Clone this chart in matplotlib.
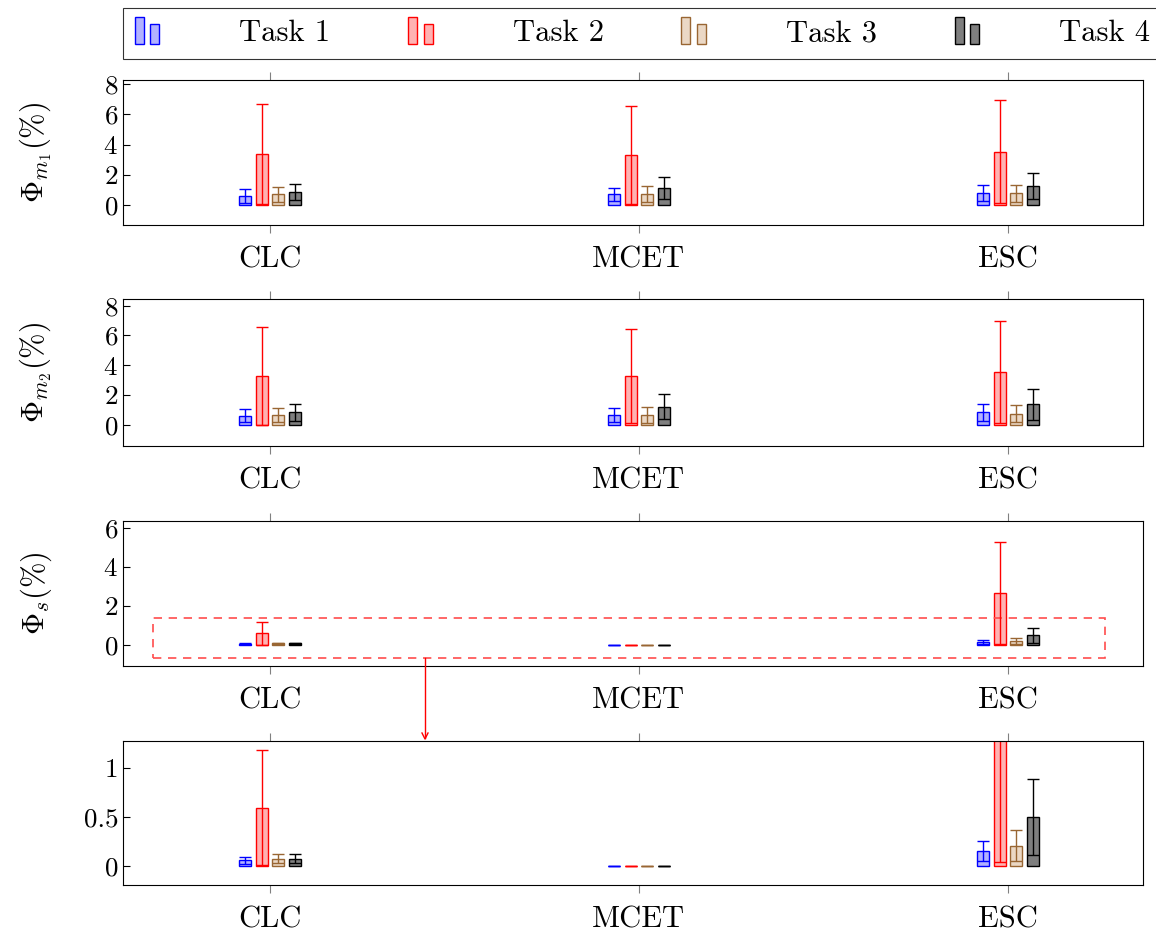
import numpy as np
import matplotlib.pyplot as plt
from matplotlib.patches import Rectangle, Patch
from matplotlib.legend_handler import HandlerBase

plt.rcParams['font.family'] = ['cmr10', 'DejaVu Serif']
plt.rcParams['mathtext.fontset'] = 'cm'
plt.rcParams['axes.formatter.use_mathtext'] = True

methods = ['CLC', 'MCET', 'ESC']
tasks = ['Task 1', 'Task 2', 'Task 3', 'Task 4']

# mean / error per task, order: CLC, MCET, ESC
m1_mean = [[0.60, 0.70, 0.77], [3.38, 3.33, 3.53], [0.70, 0.70, 0.77], [0.84, 1.10, 1.26]]
m1_err = [[0.45, 0.45, 0.53], [3.29, 3.25, 3.40], [0.48, 0.53, 0.57], [0.53, 0.73, 0.88]]
m2_mean = [[0.62, 0.69, 0.83], [3.31, 3.27, 3.56], [0.67, 0.67, 0.76], [0.85, 1.21, 1.39]]
m2_err = [[0.43, 0.47, 0.56], [3.29, 3.17, 3.42], [0.49, 0.56, 0.60], [0.58, 0.85, 1.05]]
s_mean = [[0.06, 0.003, 0.156], [0.595, 0.003, 2.66], [0.075, 0.003, 0.207], [0.075, 0.003, 0.503]]
s_err = [[0.035, 0.0, 0.10], [0.585, 0.0, 2.62], [0.045, 0.0, 0.16], [0.045, 0.0, 0.39]]

edge = ['blue', 'red', (0.6, 0.4, 0.2), 'black']
fill = [(0, 0, 1, 0.3), (1, 0, 0, 0.3), (0.75, 0.5, 0.25, 0.3), (0, 0, 0, 0.5)]

W, H = 1156, 939
fig = plt.figure(figsize=(W / 100, H / 100), dpi=100)

def ax_at(y0, y1):
    return fig.add_axes([123 / W, 1 - y1 / H, (1143 - 123) / W, (y1 - y0) / H])

x = np.arange(len(methods))
bw = 0.0325
step = 0.045

def draw(ax, means, errs, ylim, yticks, yticklabels=None):
    for i in range(4):
        xs = x + (i - 1.5) * step
        ax.bar(xs, means[i], width=bw, color=fill[i], edgecolor=edge[i], linewidth=1.0)
        ax.errorbar(xs, means[i], yerr=errs[i], fmt='none', ecolor=edge[i],
                    elinewidth=1.0, capsize=4, capthick=1.0)
    ax.set_xlim(-0.398, 2.366)
    ax.set_ylim(*ylim)
    ax.set_xticks(x)
    ax.set_xticklabels(methods, fontsize=22)
    ax.set_yticks(yticks)
    if yticklabels is not None:
        ax.set_yticklabels(yticklabels)
    ax.tick_params(axis='y', labelsize=19.5, direction='in', length=5, right=False)
    ax.tick_params(axis='x', direction='out', length=6, top=True, color='0.5', pad=9)
    for sp in ax.spines.values():
        sp.set_linewidth(0.8)

ax1 = ax_at(80, 225)
draw(ax1, m1_mean, m1_err, (-1.32, 8.28), [0, 2, 4, 6, 8])
ax1.set_ylabel(r'$\Phi_{m_1}(\%)$', fontsize=22)

ax2 = ax_at(299, 446)
draw(ax2, m2_mean, m2_err, (-1.42, 8.45), [0, 2, 4, 6, 8])
ax2.set_ylabel(r'$\Phi_{m_2}(\%)$', fontsize=22)

ax3 = ax_at(521, 666)
draw(ax3, s_mean, s_err, (-1.08, 6.36), [0, 2, 4, 6])
ax3.set_ylabel(r'$\Phi_{s}(\%)$', fontsize=22)
ax3.add_patch(Rectangle((-0.317, -0.67), 2.58, 2.05, fill=False, edgecolor=(1, 0.3, 0.3),
                        linestyle=(0, (5, 4)), linewidth=1.2))

ax4 = ax_at(741, 885)
draw(ax4, s_mean, s_err, (-0.194, 1.276), [0, 0.5, 1], ['0', '0.5', '1'])

for a in (ax1, ax2, ax3, ax4):
    a.yaxis.set_label_coords(-0.068, 0.5)

fig.add_artist(plt.Line2D([425 / W, 425 / W], [1 - 658 / H, 1 - 738 / H], color='red', lw=1))
fig.add_artist(plt.Line2D([422 / W, 425 / W, 428 / W], [1 - 733 / H, 1 - 739 / H, 1 - 733 / H],
                          color='red', lw=1))


class TwoBars(HandlerBase):
    def create_artists(self, legend, orig, xd, yd, width, height, fontsize, trans):
        arts = []
        for dx, hh in [(0, 1.25), (0.62, 0.95)]:
            r = Rectangle((xd + dx * width, yd - 2), width * 0.36, height * hh,
                          facecolor=orig.get_facecolor(), edgecolor=orig.get_edgecolor(),
                          linewidth=1.0, transform=trans)
            arts.append(r)
        return arts


handles = [Patch(facecolor=fill[i], edgecolor=edge[i]) for i in range(4)]
leg = fig.legend(handles, tasks, loc='upper left', bbox_to_anchor=(123 / W, 1 - 8 / H),
                 ncol=4, fontsize=22, frameon=True, fancybox=False, edgecolor='black',
                 handler_map={Patch: TwoBars()}, handlelength=0.82, handletextpad=2.6,
                 columnspacing=2.55, borderaxespad=0, borderpad=0.38)
leg.get_frame().set_linewidth(0.8)

fig.savefig('out.png', dpi=100)
